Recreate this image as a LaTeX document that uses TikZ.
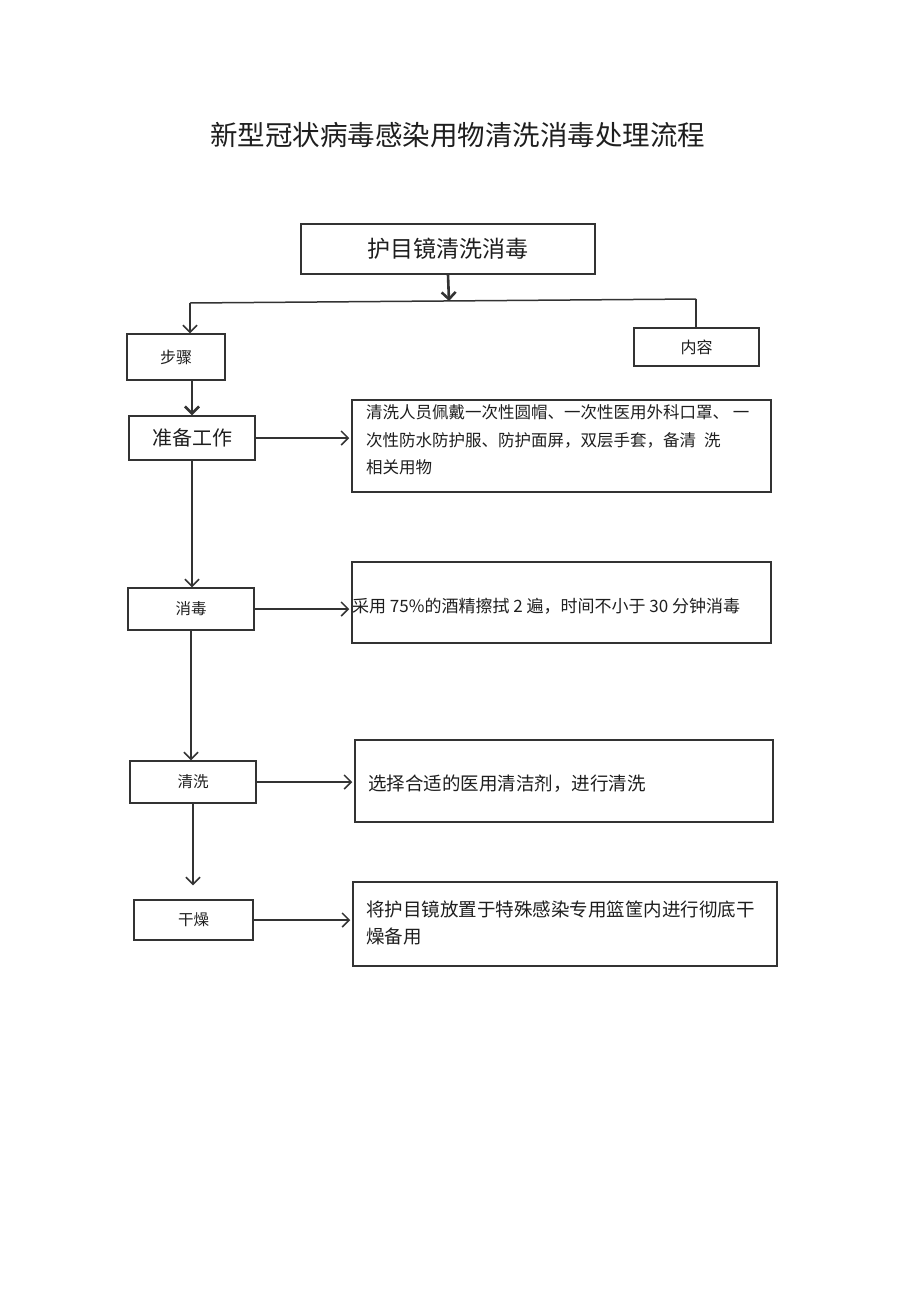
\documentclass[tikz,border=0pt]{standalone}
\usepackage{fontspec}
\setmainfont{Noto Sans CJK SC}
\usetikzlibrary{arrows.meta}
\definecolor{linegray}{HTML}{333333}
\definecolor{textgray}{HTML}{1E1E1E}

\begin{document}
\begin{tikzpicture}[x=1pt, y=-1pt,
      box/.style={draw=linegray, line width=1.5pt, inner sep=0pt, text=textgray},
      line/.style={draw=linegray, line width=1.5pt},
      arr/.style={line, -{Straight Barb[length=7pt, width=14pt]}},
      thickarr/.style={draw=linegray, line width=2.6pt, -{Straight Barb[length=7pt, width=14pt]}},
      txt/.style={inner sep=0pt, align=left, text=textgray}]
   \useasboundingbox (0,0) rectangle (920,1301);

   \node[text=textgray] (title) at (457.5,135)
      {\fontsize{27.5}{30}\selectfont 新型冠状病毒感染用物清洗消毒处理流程};
   \node[box, minimum width=294pt, minimum height=50pt,
      font=\fontsize{23}{25}\selectfont] (top) at (448,249) {护目镜清洗消毒};

   \def \Steps {
      buzhou/176/357/98/46/16/步骤,
      neirong/696.5/347/125/38/16/内容,
      zhunbei/192/438/126/44/20/准备工作,
      xiaodu/191/609/126/42/15.5/消毒,
      qingxi/193/782/126/42/15.5/清洗,
      ganzao/193.5/920/119/40/15.5/干燥}
   \def \Details {
      d1/561.5/446/419/92,
      d2/561.5/602.5/419/81,
      d3/564/781/418/82,
      d4/565/924/424/84}
   \def \Links {
      zhunbei/d1,
      xiaodu/d2,
      qingxi/d3,
      ganzao/d4}
   \foreach \n / \x / \y / \w / \h / \s / \t in \Steps {
      \node[box, minimum width=\w pt, minimum height=\h pt,
         font=\fontsize{\s}{\s}\selectfont] (\n) at (\x, \y) {\t};
   }
   \foreach \n / \x / \y / \w / \h in \Details {
      \node[box, minimum width=\w pt, minimum height=\h pt] (\n) at (\x, \y) {};
   }

   % texts of the right-hand boxes
   \node[txt, anchor=north west, font=\fontsize{16.5}{27.5}\selectfont] (t1) at (366,404.5)
      {清洗人员佩戴一次性圆帽、一次性医用外科口罩、 一\\
       次性防水防护服、防护面屏，双层手套，备清\hspace{8pt}洗\\
       相关用物};
   \node[txt, anchor=west, font=\fontsize{17}{20}\selectfont] (t2) at (352,606)
      {采用 75\%的酒精擦拭 2 遍，时间不小于 30 分钟消毒};
   \node[txt, anchor=west, font=\fontsize{18.5}{20}\selectfont] (t3) at (368,784)
      {选择合适的医用清洁剂，进行清洗};
   \node[txt, anchor=north west, font=\fontsize{18.5}{27}\selectfont] (t4) at (366,900.5)
      {将护目镜放置于特殊感染专用篮筐内进行彻底干\\
       燥备用};

   % branch under the top box
   \coordinate (bl) at (190,303);
   \coordinate (bm) at (449,301);
   \coordinate (br) at (696,299);
   \draw[thickarr] (top.south) -- (bm);
   \draw[line] (bl) -- (br);
   \draw[arr] (bl) -- (bl |- buzhou.north);
   \draw[line] (br) -- (br |- neirong.north);

   % steps
   \draw[thickarr] (zhunbei.north |- buzhou.south) -- (zhunbei.north);
   \draw[arr] (zhunbei.south) -- (zhunbei.south |- xiaodu.north);
   \draw[arr] (xiaodu.south) -- (xiaodu.south |- qingxi.north);
   \draw[arr, shorten >=14pt] (qingxi.south) -- (qingxi.south |- ganzao.north);
   \foreach \u / \v in \Links {
      \draw[arr, shorten >=2pt] (\u.east) -- (\v.west |- \u.east);
   }
\end{tikzpicture}
\end{document}
